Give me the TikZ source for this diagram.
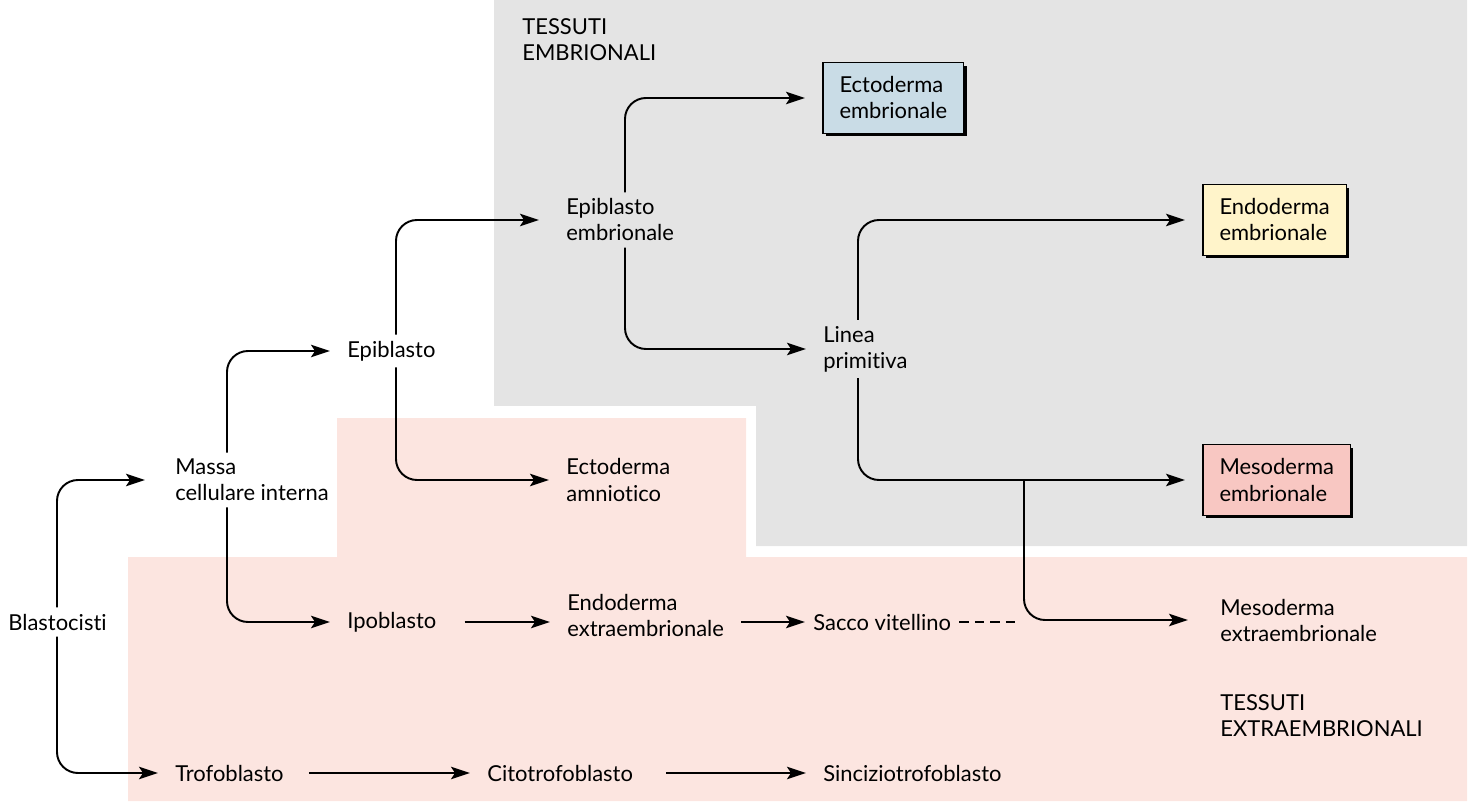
\documentclass[tikz,border=0pt]{standalone}
\usepackage{fontspec}
\setmainfont{Lato}[Ligatures=NoCommon]
\usetikzlibrary{arrows.meta,shadows}
\definecolor{embgrey}{RGB}{228,228,228}
\definecolor{extpink}{RGB}{252,229,224}
\definecolor{ectoblue}{RGB}{201,220,230}
\definecolor{endoyellow}{RGB}{255,244,202}
\definecolor{mesopink}{RGB}{248,199,194}
\begin{document}
\begin{tikzpicture}[x=0.02cm,y=-0.02cm,
    font=\fontsize{12.5}{14.8}\selectfont,
    lbl/.style={anchor=west,align=left,inner xsep=0.34cm,inner ysep=0.12cm},
    cell/.style={anchor=west,align=left,draw,line width=0.6pt,inner xsep=0.33cm,
      minimum height=1.42cm,outer sep=0.36cm,
      drop shadow={shadow xshift=0.06cm,shadow yshift=-0.06cm,fill=black,opacity=1}},
    flow/.style={-{Stealth[length=0.38cm,width=0.25cm,inset=0.08cm]},line width=1.1pt,
      rounded corners=0.42cm}]
  \useasboundingbox (0,0) rectangle (1476,810);
  % zone backgrounds
  \fill[embgrey] (494,0) -- (1467,0) -- (1467,546) -- (756,546) -- (756,406)
    -- (494,406) -- cycle;
  \fill[extpink] (337,418) -- (746,418) -- (746,557) -- (1467,557) -- (1467,801)
    -- (128,801) -- (128,557) -- (337,557) -- cycle;
  \draw
    (-9,622) node[lbl] (blasto){Blastocisti}
    (158,480) node[lbl] (massa){Massa\\cellulare interna}
    (330,351) node[lbl] (epi){Epiblasto}
    (330,622) node[lbl] (ipo){Ipoblasto}
    (158,773) node[lbl] (trofo){Trofoblasto}
    (470,773) node[lbl] (cito){Citotrofoblasto}
    (806,773) node[lbl] (sincizio){Sinciziotrofoblasto}
    (549,220) node[lbl] (epiemb){Epiblasto\\embrionale}
    (549,480) node[lbl] (ectoamn){Ectoderma\\amniotico}
    (550,615) node[lbl] (endoex){Endoderma\\extraembrionale}
    (805,622) node[lbl,inner xsep=0.16cm] (sacco){Sacco vitellino}
    (806,349) node[lbl] (linea){Linea\\primitiva}
    (1203,620) node[lbl] (mesoex){Mesoderma\\extraembrionale}
    (805,98) node[cell,fill=ectoblue] (ectoemb){Ectoderma\\embrionale}
    (1185,220) node[cell,fill=endoyellow] (endoemb){Endoderma\\embrionale}
    (1185,480) node[cell,fill=mesopink] (mesoemb){Mesoderma\\embrionale}
    (505,40) node[lbl] (tessemb){TESSUTI\\EMBRIONALI}
    (1203,716) node[lbl] (tessext){TESSUTI\\EXTRAEMBRIONALI};
  \coordinate (branch) at (1024,480);
  \coordinate (dashend) at (1017,622);
  \begin{scope}[flow]
    \draw[shorten >=0.26cm] ([xshift=1.32cm]blasto.north west) |- (massa.west);
    \draw ([xshift=1.32cm]blasto.south west) |- (trofo.west);
    \draw ([xshift=1.38cm]massa.north west) |- (epi.west);
    \draw ([xshift=1.38cm]massa.south west) |- (ipo.west);
    \draw[shorten >=0.2cm] ([xshift=1.32cm]epi.north west) |- (epiemb.west);
    \draw ([xshift=1.32cm]epi.south west) |- (ectoamn.west);
    \draw ([xshift=1.52cm]epiemb.north west) |- (ectoemb.west);
    \draw ([xshift=1.52cm]epiemb.south west) |- (linea.west);
    \draw ([xshift=1.04cm]linea.north west) |- (endoemb.west);
    \draw ([xshift=1.04cm]linea.south west) |- (mesoemb.west);
    \draw[shorten >=0.3cm] (branch) |- (mesoex.west);
    \draw[shorten <=0.22cm] (ipo.east) -- (endoex.west |- ipo.east);
    \draw (endoex.east |- sacco.west) -- (sacco.west);
    \draw[shorten <=0.16cm] (trofo.east) -- (cito.west);
    \draw[shorten <=0.32cm] (cito.east) -- (sincizio.west);
  \end{scope}
  \draw[line width=0.7pt,dash pattern=on 0.19cm off 0.12cm] (sacco.east) -- (dashend);
\end{tikzpicture}
\end{document}
